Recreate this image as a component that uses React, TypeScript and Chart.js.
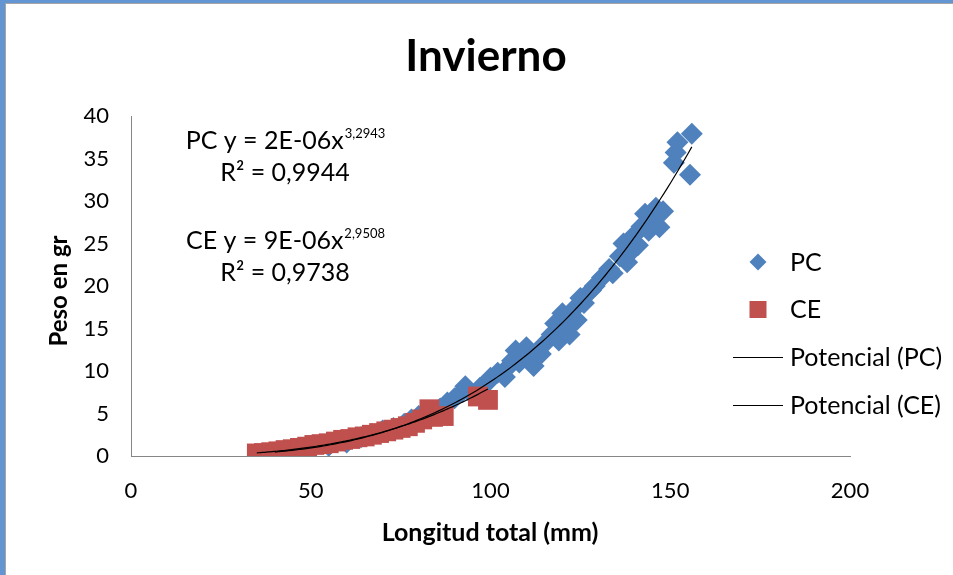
import React, { useEffect, useRef } from "react";
import { Chart, registerables } from "chart.js";

Chart.register(...registerables);

// ---- Data ----
const PC_LENGTH = [
  40, 45, 50, 55, 60, 64, 67, 70, 73, 76, 78, 80, 83, 86, 88, 90, 92, 93, 95, 97,
  99, 100, 102, 104, 105, 106, 107, 108, 110, 111, 112, 114, 115, 117, 118, 119,
  120, 121, 122, 123, 124, 125, 126, 128, 129, 131, 133, 134, 136, 137, 138, 139,
  140, 141, 142, 143, 144, 145, 146, 147, 148, 151, 151.5, 152, 156, 155.5,
];
const PC_WEIGHT = [
  0.4, 0.6, 0.9, 1.2, 1.6, 2.2, 2.6, 3.0, 3.3, 3.8, 4.3, 4.7, 5.0, 5.6, 6.3, 6.8,
  7.5, 8.2, 7.2, 8.0, 8.6, 9.2, 9.8, 9.3, 10.5, 11.2, 12.4, 11.0, 12.8, 11.5, 10.6,
  12.0, 13.2, 14.3, 15.6, 13.6, 16.8, 15.0, 14.3, 17.2, 16.0, 18.6, 18.0, 19.5,
  20.0, 21.0, 22.0, 21.5, 23.5, 25.0, 22.8, 24.0, 26.0, 24.8, 27.0, 28.5, 26.5,
  27.5, 29.2, 26.9, 28.8, 34.5, 35.7, 36.9, 37.9, 33.1,
];
const CE_LENGTH = [
  35, 37, 39, 41, 43, 45, 47, 49, 51, 53, 55, 57, 59, 61, 63, 65, 67, 69, 71, 73,
  75, 77, 79, 81, 83, 84, 87, 96.5, 99.3,
];
const CE_WEIGHT = [
  0.3, 0.35, 0.45, 0.55, 0.7, 0.8, 0.95, 1.1, 1.3, 1.4, 1.5, 1.7, 1.9, 2.0, 2.2,
  2.3, 2.5, 2.7, 2.9, 3.1, 3.3, 3.5, 3.9, 4.3, 5.5, 4.6, 4.7, 7.0, 6.6,
];

const X_TICKS = [0, 50, 100, 150, 200];
const Y_TICKS = [0, 5, 10, 15, 20, 25, 30, 35, 40];

const TITLE = "Invierno";
const X_TITLE = "Longitud total (mm)";
const Y_TITLE = "Peso en gr";
const SERIES_NAMES = ["PC", "CE"];
const TREND_NAMES = ["Potencial (PC)", "Potencial (CE)"];
const EQ_BASE = ["PC y = 2E-06x", "CE y = 9E-06x"];
const EQ_EXP = ["3,2943", "2,9508"];
const EQ_R2 = ["R² = 0,9944", "R² = 0,9738"];

const BLUE = "#4F81BD";
const RED = "#C0504D";
const FONT = "Lato, 'Open Sans', sans-serif";

function powerFit(xs: number[], ys: number[]) {
  const n = xs.length;
  let sx = 0, sy = 0, sxx = 0, sxy = 0;
  for (let i = 0; i < n; i++) {
    const lx = Math.log(xs[i]);
    const ly = Math.log(ys[i]);
    sx += lx; sy += ly; sxx += lx * lx; sxy += lx * ly;
  }
  const b = (n * sxy - sx * sy) / (n * sxx - sx * sx);
  const a = Math.exp((sy - b * sx) / n);
  return { a, b };
}

function trendPoints(xs: number[], ys: number[]) {
  const { a, b } = powerFit(xs, ys);
  const lo = Math.min(...xs);
  const hi = Math.max(...xs);
  const pts: { x: number; y: number }[] = [];
  const steps = 120;
  for (let i = 0; i <= steps; i++) {
    const x = lo + ((hi - lo) * i) / steps;
    pts.push({ x, y: a * Math.pow(x, b) });
  }
  return pts;
}

const decorPlugin = {
  id: "decor",
  beforeDraw(chart: any) {
    const ctx = chart.ctx as CanvasRenderingContext2D;
    const W = chart.width;
    const H = chart.height;
    ctx.save();
    ctx.fillStyle = "#ffffff";
    ctx.fillRect(0, 0, W, H);
    ctx.fillStyle = "#6495d3";
    ctx.fillRect(0, 0, 5, H);
    ctx.fillRect(0, 0, W, 3);
    ctx.fillStyle = "#a6a6a6";
    ctx.fillRect(5, 3, 1, H - 3);
    ctx.fillRect(5, 3, W - 5, 1);
    ctx.restore();
  },
  afterDraw(chart: any) {
    const ctx = chart.ctx as CanvasRenderingContext2D;
    ctx.save();
    ctx.fillStyle = "#000000";
    ctx.textBaseline = "alphabetic";

    // Title
    ctx.font = `bold 44px ${FONT}`;
    ctx.textAlign = "center";
    ctx.fillText(TITLE, 486, 71);

    // Axis titles
    ctx.font = `bold 25px ${FONT}`;
    ctx.fillText(X_TITLE, 490, 541);
    ctx.save();
    ctx.translate(67, 291);
    ctx.rotate(-Math.PI / 2);
    ctx.font = `bold 24px ${FONT}`;
    ctx.fillText(Y_TITLE, 0, 0);
    ctx.restore();

    // Equations
    const eqY = [149, 249];
    for (let i = 0; i < 2; i++) {
      ctx.font = `25px ${FONT}`;
      const wBase = ctx.measureText(EQ_BASE[i]).width;
      ctx.font = `13px ${FONT}`;
      const wExp = ctx.measureText(EQ_EXP[i]).width;
      const cx = 285;
      const left = cx - (wBase + wExp) / 2;
      ctx.textAlign = "left";
      ctx.font = `25px ${FONT}`;
      ctx.fillText(EQ_BASE[i], left, eqY[i]);
      ctx.font = `13px ${FONT}`;
      ctx.fillText(EQ_EXP[i], left + wBase + 1, eqY[i] - 11);
      ctx.font = `25px ${FONT}`;
      ctx.textAlign = "center";
      ctx.fillText(EQ_R2[i], cx, eqY[i] + 32);
    }

    // Legend
    ctx.textAlign = "left";
    ctx.textBaseline = "middle";
    ctx.font = `25px ${FONT}`;
    const ly = [262, 309, 357, 405];
    // diamond
    ctx.fillStyle = BLUE;
    ctx.beginPath();
    ctx.moveTo(758, ly[0] - 8.5);
    ctx.lineTo(766.5, ly[0]);
    ctx.lineTo(758, ly[0] + 8.5);
    ctx.lineTo(749.5, ly[0]);
    ctx.closePath();
    ctx.fill();
    // square
    ctx.fillStyle = RED;
    ctx.fillRect(749.5, ly[1] - 8, 17, 17);
    // lines
    ctx.strokeStyle = "#000000";
    ctx.lineWidth = 1;
    ctx.beginPath();
    ctx.moveTo(733, ly[2] + 0.5);
    ctx.lineTo(783, ly[2] + 0.5);
    ctx.moveTo(733, ly[3] + 0.5);
    ctx.lineTo(783, ly[3] + 0.5);
    ctx.stroke();
    ctx.fillStyle = "#000000";
    ctx.fillText(SERIES_NAMES[0], 790, ly[0] + 1);
    ctx.fillText(SERIES_NAMES[1], 790, ly[1] + 1);
    ctx.fillText(TREND_NAMES[0], 790, ly[2] + 1);
    ctx.fillText(TREND_NAMES[1], 790, ly[3] + 1);
    ctx.restore();
  },
};

export default function App() {
  const canvasRef = useRef<HTMLCanvasElement | null>(null);

  useEffect(() => {
    const canvas = canvasRef.current;
    if (!canvas) return;
    const pcData = PC_LENGTH.map((x, i) => ({ x, y: PC_WEIGHT[i] }));
    const ceData = CE_LENGTH.map((x, i) => ({ x, y: CE_WEIGHT[i] }));

    const chart = new Chart(canvas, {
      type: "scatter",
      data: {
        datasets: [
          {
            label: TREND_NAMES[0],
            data: trendPoints(PC_LENGTH, PC_WEIGHT),
            showLine: true,
            borderColor: "#000000",
            borderWidth: 1.2,
            pointRadius: 0,
            fill: false,
            order: 0,
          } as any,
          {
            label: TREND_NAMES[1],
            data: trendPoints(CE_LENGTH, CE_WEIGHT),
            showLine: true,
            borderColor: "#000000",
            borderWidth: 1.2,
            pointRadius: 0,
            fill: false,
            order: 0,
          } as any,
          {
            label: SERIES_NAMES[1],
            data: ceData,
            pointStyle: "rect",
            pointRadius: 14,
            backgroundColor: RED,
            borderColor: RED,
            borderWidth: 0,
            order: 1,
          },
          {
            label: SERIES_NAMES[0],
            data: pcData,
            pointStyle: "rectRot",
            pointRadius: 11,
            backgroundColor: BLUE,
            borderColor: BLUE,
            borderWidth: 0,
            order: 2,
          },
        ],
      },
      options: {
        responsive: false,
        animation: false,
        events: [],
        layout: { padding: { left: 0, top: 116, right: 103, bottom: 0 } },
        plugins: {
          legend: { display: false },
          title: { display: false },
          tooltip: { enabled: false },
        },
        scales: {
          x: {
            type: "linear",
            min: 0,
            max: 200,
            grid: { display: false, drawTicks: false },
            border: { display: true, color: "#868686", width: 1 },
            ticks: {
              padding: 22,
              color: "#000000",
              font: { family: FONT, size: 22 },
            },
            afterBuildTicks: (s: any) => {
              s.ticks = X_TICKS.map((v) => ({ value: v }));
            },
            afterFit: (s: any) => {
              s.height = 119;
            },
          },
          y: {
            type: "linear",
            min: 0,
            max: 40,
            grid: { display: false, drawTicks: false },
            border: { display: true, color: "#868686", width: 1 },
            ticks: {
              padding: 22,
              color: "#000000",
              font: { family: FONT, size: 22 },
            },
            afterBuildTicks: (s: any) => {
              s.ticks = Y_TICKS.map((v) => ({ value: v }));
            },
            afterFit: (s: any) => {
              s.width = 131;
            },
          },
        },
      },
      plugins: [decorPlugin],
    });

    return () => chart.destroy();
  }, []);

  return (
    <div style={{ position: "fixed", left: 0, top: 0, width: 953, height: 575 }}>
      <canvas ref={canvasRef} width={953} height={575} style={{ display: "block" }} />
    </div>
  );
}
